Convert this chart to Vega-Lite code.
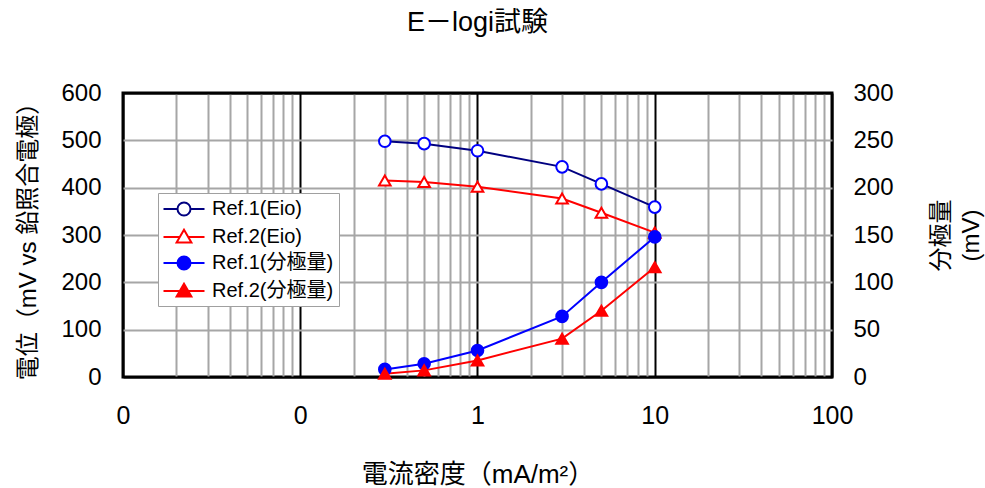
{
  "$schema": "https://vega.github.io/schema/vega-lite/v6.json",
  "autosize": "none",
  "width": 709,
  "height": 284,
  "padding": {"left": 123, "top": 93, "right": 153, "bottom": 111},
  "background": "white",
  "config": {
    "font": "Liberation Sans, Noto Sans CJK JP",
    "view": {"stroke": "black", "strokeWidth": 3},
    "legend": {
      "orient": "none",
      "legendX": 35,
      "legendY": 100,
      "fillColor": "white",
      "strokeColor": "#A0A0A0",
      "padding": 5,
      "labelFontSize": 20,
      "labelColor": "black",
      "labelOffset": 17,
      "symbolOffset": 10,
      "symbolSize": 400,
      "symbolStrokeWidth": 2,
      "rowPadding": 5
    }
  },
  "title": {
    "text": "E－logi試験",
    "fontSize": 27,
    "fontWeight": "normal",
    "font": "Liberation Sans, Noto Sans CJK JP",
    "anchor": "middle",
    "offset": 44,
    "color": "black"
  },
  "data": {
    "values": [
      {"series": "Ref.1(Eio)", "axis": "L", "x": 0.3, "y": 498},
      {"series": "Ref.1(Eio)", "axis": "L", "x": 0.5, "y": 493},
      {"series": "Ref.1(Eio)", "axis": "L", "x": 1, "y": 478},
      {"series": "Ref.1(Eio)", "axis": "L", "x": 3, "y": 444},
      {"series": "Ref.1(Eio)", "axis": "L", "x": 5, "y": 408},
      {"series": "Ref.1(Eio)", "axis": "L", "x": 10, "y": 359},
      {"series": "Ref.2(Eio)", "axis": "L", "x": 0.3, "y": 415},
      {"series": "Ref.2(Eio)", "axis": "L", "x": 0.5, "y": 412},
      {"series": "Ref.2(Eio)", "axis": "L", "x": 1, "y": 402},
      {"series": "Ref.2(Eio)", "axis": "L", "x": 3, "y": 377},
      {"series": "Ref.2(Eio)", "axis": "L", "x": 5, "y": 347},
      {"series": "Ref.2(Eio)", "axis": "L", "x": 10, "y": 305},
      {"series": "Ref.1(分極量)", "axis": "R", "x": 0.3, "y": 8},
      {"series": "Ref.1(分極量)", "axis": "R", "x": 0.5, "y": 14},
      {"series": "Ref.1(分極量)", "axis": "R", "x": 1, "y": 28},
      {"series": "Ref.1(分極量)", "axis": "R", "x": 3, "y": 64},
      {"series": "Ref.1(分極量)", "axis": "R", "x": 5, "y": 100},
      {"series": "Ref.1(分極量)", "axis": "R", "x": 10, "y": 148},
      {"series": "Ref.2(分極量)", "axis": "R", "x": 0.3, "y": 3.5},
      {"series": "Ref.2(分極量)", "axis": "R", "x": 0.5, "y": 7},
      {"series": "Ref.2(分極量)", "axis": "R", "x": 1, "y": 17.5},
      {"series": "Ref.2(分極量)", "axis": "R", "x": 3, "y": 40.5},
      {"series": "Ref.2(分極量)", "axis": "R", "x": 5, "y": 70},
      {"series": "Ref.2(分極量)", "axis": "R", "x": 10, "y": 116}
    ]
  },
  "encoding": {
    "x": {
      "field": "x",
      "type": "quantitative",
      "scale": {"type": "log", "domain": [0.01, 100], "nice": false},
      "axis": {
        "values": [0.01, 0.02, 0.03, 0.04, 0.05, 0.06, 0.07, 0.08, 0.09, 0.1, 0.2, 0.3, 0.4, 0.5, 0.6, 0.7, 0.8, 0.9, 1, 2, 3, 4, 5, 6, 7, 8, 9, 10, 20, 30, 40, 50, 60, 70, 80, 90, 100],
        "labelExpr": "datum.value == 0.01 || datum.value == 0.1 ? '0' : datum.value == 1 ? '1' : datum.value == 10 ? '10' : datum.value == 100 ? '100' : ''",
        "labelOverlap": false,
        "labelFontSize": 25,
        "labelColor": "black",
        "labelPadding": 26,
        "labelDx": -5,
        "labelFlush": false,
        "ticks": false,
        "domain": false,
        "grid": true,
        "gridColor": {"condition": {"test": "datum.value == 0.01 || datum.value == 0.1 || datum.value == 1 || datum.value == 10 || datum.value == 100", "value": "black"}, "value": "#A6A6A6"},
        "gridWidth": 2,
        "gridOpacity": 1,
        "title": "電流密度（mA/m²）",
        "titleFontSize": 26,
        "titleFontWeight": "normal",
        "titleColor": "black",
        "titlePadding": 33
      }
    }
  },
  "layer": [
    {
      "transform": [{"filter": "datum.axis == 'L'"}],
      "encoding": {
        "y": {
          "field": "y",
          "type": "quantitative",
          "scale": {"domain": [0, 600], "nice": false},
          "axis": {
            "orient": "left",
            "values": [0, 100, 200, 300, 400, 500, 600],
            "labelFontSize": 24,
            "labelColor": "black",
            "labelPadding": 22,
            "ticks": false,
            "domain": false,
            "grid": true,
            "gridColor": {"condition": {"test": "datum.value == 0 || datum.value == 600", "value": "black"}, "value": "#A6A6A6"},
            "gridWidth": 2,
            "gridOpacity": 1,
            "title": "電位（mV vs 鉛照合電極）",
            "titleFontSize": 24,
            "titleFontWeight": "normal",
            "titleColor": "black",
            "titlePadding": 20
          }
        }
      },
      "layer": [
        {
          "mark": {"type": "line", "strokeWidth": 2},
          "encoding": {
            "color": {
              "field": "series",
              "type": "nominal",
              "scale": {"domain": ["Ref.1(Eio)", "Ref.2(Eio)", "Ref.1(分極量)", "Ref.2(分極量)"], "range": ["#000080", "#FF0000", "#0000FF", "#FF0000"]},
              "legend": null
            }
          }
        },
        {
          "mark": {"type": "point", "filled": true, "size": 135, "strokeWidth": 2, "opacity": 1},
          "encoding": {
            "shape": {"field": "series", "type": "nominal", "scale": {"domain": ["Ref.1(Eio)", "Ref.2(Eio)", "Ref.1(分極量)", "Ref.2(分極量)"], "range": ["circle", "triangle-up", "circle", "triangle-up"]}, "legend": null},
            "fill": {"field": "series", "type": "nominal", "scale": {"domain": ["Ref.1(Eio)", "Ref.2(Eio)", "Ref.1(分極量)", "Ref.2(分極量)"], "range": ["#FFFFFF", "#FFFFFF", "#0000FF", "#FF0000"]}, "legend": null},
            "stroke": {"field": "series", "type": "nominal", "scale": {"domain": ["Ref.1(Eio)", "Ref.2(Eio)", "Ref.1(分極量)", "Ref.2(分極量)"], "range": ["#0000FF", "#FF0000", "#0000FF", "#FF0000"]}, "legend": null}
          }
        }
      ]
    },
    {
      "transform": [{"filter": "datum.axis == 'R'"}],
      "encoding": {
        "y": {
          "field": "y",
          "type": "quantitative",
          "scale": {"domain": [0, 300], "nice": false},
          "axis": {
            "orient": "right",
            "values": [0, 50, 100, 150, 200, 250, 300],
            "labelFontSize": 24,
            "labelColor": "black",
            "labelPadding": 21,
            "ticks": false,
            "domain": false,
            "grid": false,
            "title": ["分極量", "(mV)"],
            "titleAngle": -90,
            "titleFontSize": 24,
            "titleFontWeight": "normal",
            "titleColor": "black",
            "titleLineHeight": 30,
            "titlePadding": 30
          }
        }
      },
      "layer": [
        {
          "mark": {"type": "line", "strokeWidth": 2},
          "encoding": {
            "color": {
              "field": "series",
              "type": "nominal",
              "scale": {"domain": ["Ref.1(Eio)", "Ref.2(Eio)", "Ref.1(分極量)", "Ref.2(分極量)"], "range": ["#000080", "#FF0000", "#0000FF", "#FF0000"]},
              "legend": null
            }
          }
        },
        {
          "mark": {"type": "point", "filled": true, "size": 135, "strokeWidth": 2, "opacity": 1},
          "encoding": {
            "shape": {"field": "series", "type": "nominal", "scale": {"domain": ["Ref.1(Eio)", "Ref.2(Eio)", "Ref.1(分極量)", "Ref.2(分極量)"], "range": ["circle", "triangle-up", "circle", "triangle-up"]}, "legend": null},
            "fill": {"field": "series", "type": "nominal", "scale": {"domain": ["Ref.1(Eio)", "Ref.2(Eio)", "Ref.1(分極量)", "Ref.2(分極量)"], "range": ["#FFFFFF", "#FFFFFF", "#0000FF", "#FF0000"]}, "legend": null},
            "stroke": {"field": "series", "type": "nominal", "scale": {"domain": ["Ref.1(Eio)", "Ref.2(Eio)", "Ref.1(分極量)", "Ref.2(分極量)"], "range": ["#0000FF", "#FF0000", "#0000FF", "#FF0000"]}, "legend": null}
          }
        }
      ]
    },
    {
      "transform": [{"filter": "false"}],
      "mark": {"type": "point", "filled": true, "size": 400, "strokeWidth": 2, "opacity": 1},
      "encoding": {
        "shape": {"field": "series", "type": "nominal", "scale": {"domain": ["Ref.1(Eio)", "Ref.2(Eio)", "Ref.1(分極量)", "Ref.2(分極量)"], "range": ["M-2.05,0H-0.65M0.65,0H2.05M0.65,0A0.65,0.65,0,1,1,-0.65,0A0.65,0.65,0,1,1,0.65,0Z", "M-2.05,0H-0.416M0.416,0H2.05M0,-0.72L0.74,0.56L-0.74,0.56Z", "M-2.05,0H-0.65M0.65,0H2.05M0.65,0A0.65,0.65,0,1,1,-0.65,0A0.65,0.65,0,1,1,0.65,0Z", "M-2.05,0H-0.416M0.416,0H2.05M0,-0.72L0.74,0.56L-0.74,0.56Z"]}, "legend": {"title": null}},
        "fill": {"field": "series", "type": "nominal", "scale": {"domain": ["Ref.1(Eio)", "Ref.2(Eio)", "Ref.1(分極量)", "Ref.2(分極量)"], "range": ["#FFFFFF", "#FFFFFF", "#0000FF", "#FF0000"]}, "legend": {"title": null}},
        "stroke": {"field": "series", "type": "nominal", "scale": {"domain": ["Ref.1(Eio)", "Ref.2(Eio)", "Ref.1(分極量)", "Ref.2(分極量)"], "range": ["#000080", "#FF0000", "#0000FF", "#FF0000"]}, "legend": {"title": null}}
      }
    }
  ],
  "resolve": {"scale": {"y": "independent", "shape": "independent", "fill": "independent", "stroke": "independent", "color": "independent"}}
}
